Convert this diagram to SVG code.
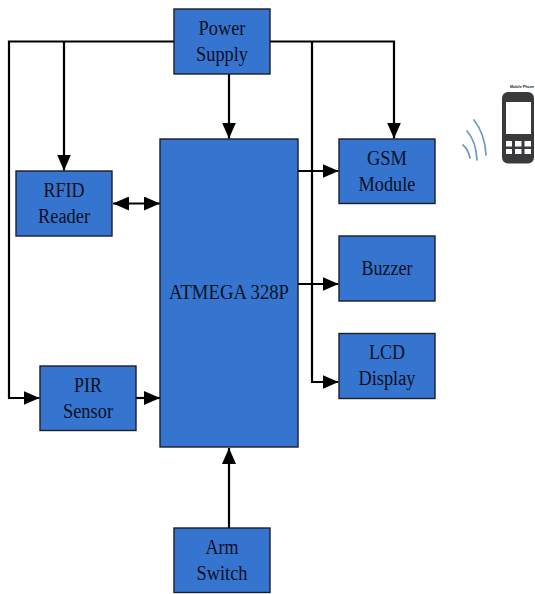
<svg xmlns="http://www.w3.org/2000/svg" width="535" height="594" viewBox="0 0 535 594">
<style>
.b{fill:#3575cf;stroke:#1c1f26;stroke-width:1.4}
.t{font-family:"Liberation Serif","Times New Roman",serif;font-size:20px;fill:#0a0f1e;text-anchor:middle}
.c{fill:none;stroke:#000;stroke-width:2.2;stroke-linejoin:miter}
.a{fill:#000;stroke:none}
.w{fill:none;stroke:#6f97c4;stroke-width:1.7;stroke-linecap:round}
</style>
<defs>
<marker id="h" markerUnits="userSpaceOnUse" markerWidth="16" markerHeight="14" refX="16" refY="7" orient="auto"><path class="a" d="M0 0L16 7L0 14Z"/></marker>
<marker id="hs" markerUnits="userSpaceOnUse" markerWidth="16" markerHeight="14" refX="0" refY="7" orient="auto"><path class="a" d="M16 0L0 7L16 14Z"/></marker>
</defs>
<rect width="535" height="594" fill="#fff"/>
<g id="connectors">
<path class="c" d="M174 41.500H9V398H39.500" marker-end="url(#h)"/>
<path class="c" d="M64 41.500V170.500" marker-end="url(#h)"/>
<path class="c" d="M229 74V138.500" marker-end="url(#h)"/>
<path class="c" d="M270 41.500H394V138.500" marker-end="url(#h)"/>
<path class="c" d="M312 41.500V382H338.500" marker-end="url(#h)"/>
<path class="c" d="M298 171H338.500" marker-end="url(#h)"/>
<path class="c" d="M298 284H338.500" marker-end="url(#h)"/>
<path class="c" d="M113 203.500H160" marker-start="url(#hs)" marker-end="url(#h)"/>
<path class="c" d="M136 398H160" marker-end="url(#h)"/>
<path class="c" d="M229 528V448" marker-end="url(#h)"/>
</g>
<g id="power"><rect class="b" x="174" y="9" width="96" height="65"/><text class="t" x="222" y="35" textLength="47" lengthAdjust="spacingAndGlyphs">Power</text><text class="t" x="222" y="61" textLength="52" lengthAdjust="spacingAndGlyphs">Supply</text></g>
<g id="rfid"><rect class="b" x="16" y="171" width="96" height="65"/><text class="t" x="64" y="197" textLength="41" lengthAdjust="spacingAndGlyphs">RFID</text><text class="t" x="64" y="223" textLength="52" lengthAdjust="spacingAndGlyphs">Reader</text></g>
<g id="main"><rect class="b" x="160" y="139" width="138" height="308"/><text class="t" x="229" y="299" textLength="120" lengthAdjust="spacingAndGlyphs">ATMEGA 328P</text></g>
<g id="gsm"><rect class="b" x="339" y="139" width="96" height="64.500"/><text class="t" x="387" y="165" textLength="40" lengthAdjust="spacingAndGlyphs">GSM</text><text class="t" x="387" y="190.500" textLength="57" lengthAdjust="spacingAndGlyphs">Module</text></g>
<g id="buzzer"><rect class="b" x="339" y="236" width="96" height="65"/><text class="t" x="387" y="275" textLength="51" lengthAdjust="spacingAndGlyphs">Buzzer</text></g>
<g id="lcd"><rect class="b" x="339" y="333.500" width="96" height="65"/><text class="t" x="387" y="359" textLength="36" lengthAdjust="spacingAndGlyphs">LCD</text><text class="t" x="387" y="385" textLength="57" lengthAdjust="spacingAndGlyphs">Display</text></g>
<g id="pir"><rect class="b" x="40" y="366" width="96" height="64.500"/><text class="t" x="88" y="392" textLength="28" lengthAdjust="spacingAndGlyphs">PIR</text><text class="t" x="88" y="418" textLength="50" lengthAdjust="spacingAndGlyphs">Sensor</text></g>
<g id="arm"><rect class="b" x="174" y="528" width="96" height="64.500"/><text class="t" x="222" y="554" textLength="33" lengthAdjust="spacingAndGlyphs">Arm</text><text class="t" x="222" y="580" textLength="51" lengthAdjust="spacingAndGlyphs">Switch</text></g>
<g id="phone">
<rect x="502" y="92" width="32" height="71.500" rx="6" fill="#3a3a3c"/>
<rect x="506" y="102" width="25" height="32" fill="#fff"/>
<g fill="#fff"><rect x="506" y="141" width="6" height="5.500"/><rect x="515" y="141" width="6.500" height="5.500"/><rect x="524.500" y="141" width="6.500" height="5.500"/><rect x="506" y="149" width="6" height="5"/><rect x="515" y="149" width="6.500" height="5"/><rect x="524.500" y="149" width="6.500" height="5"/></g>
<path class="w" d="M463 145Q468 149 470 158"/><path class="w" d="M467 131Q476 141 477 160"/><path class="w" d="M474 120Q485 134 486 155"/>
<text x="510" y="88" font-family="Liberation Sans,sans-serif" font-size="4" font-weight="bold" fill="#222" textLength="24" lengthAdjust="spacingAndGlyphs">Mobile Phone</text>
</g>
</svg>
